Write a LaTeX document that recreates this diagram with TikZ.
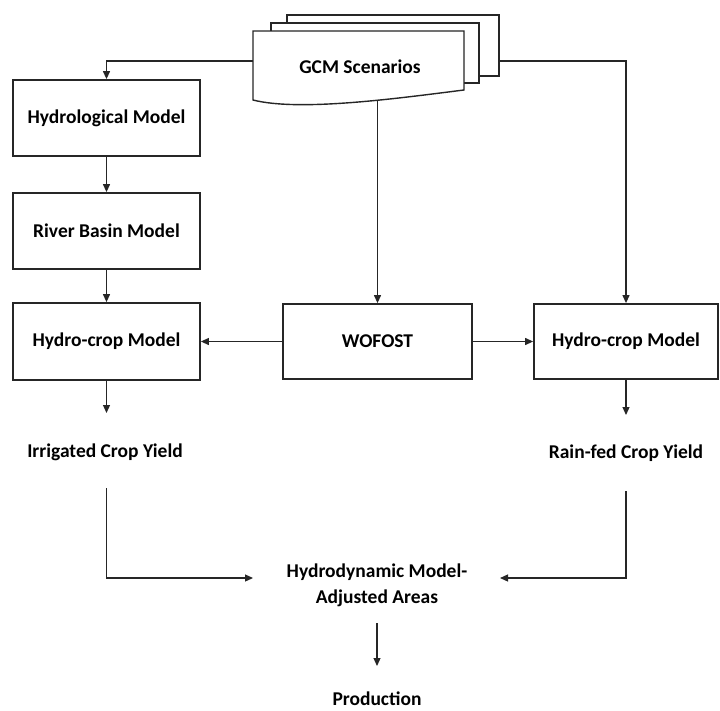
\documentclass[tikz,border=0pt]{standalone}
\usepackage{fontspec}
\setmainfont{Carlito}
\usetikzlibrary{arrows.meta}
\begin{document}
\begin{tikzpicture}[x=1pt,y=-1pt,
  txt/.style={font=\fontsize{19.5}{26}\selectfont\bfseries, text=black},
  box/.style={txt, draw=black!85, line width=1.8pt, fill=white, inner sep=0pt,
              minimum width=187pt, minimum height=76pt},
  lbl/.style={txt, inner sep=0pt, align=center},
  page/.style={draw=black!85, line width=1.4pt, fill=white},
  conn/.style={draw=black!85, line width=1.2pt, -{Triangle[length=8pt,width=7pt]}},
  plain/.style={draw=black!85, line width=1.2pt}]
\useasboundingbox (0,0) rectangle (720,710);

% GCM Scenarios (stacked documents)
\draw[page] (287,15) rectangle (499,76);
\draw[page] (271,23) rectangle (479,83);
\draw[page] (253,31) -- (464,31) -- (464,90)
  .. controls (400,98) and (300,112) .. (253,100) -- cycle;
\node[lbl] (gcm) at (360,67) {GCM Scenarios};
\coordinate (gl) at (253,61);
\coordinate (gr) at (499,61);
\coordinate (gb) at (377.5,101);

% boxes
\node[box] (hyd) at (106.5,118) {Hydrological Model};
\node[box] (rbm) at (106.5,231) {River Basin Model};
\node[box, minimum height=77pt] (hcl) at (106.5,341.5) {Hydro-crop Model};
\node[box, minimum width=189pt, minimum height=75pt] (wof) at (377.5,341.5) {WOFOST};
\node[box, minimum width=184pt, minimum height=75pt] (hcr) at (626,341.5) {Hydro-crop Model};

% labels
\node[lbl] (irr) at (105,452) {Irrigated Crop Yield};
\node[lbl] (rfy) at (626,453) {Rain-fed Crop Yield};
\node[lbl] (hdm) at (377,585) {Hydrodynamic Model-\\Adjusted Areas};
\node[lbl] (pro) at (377,699) {Production};

% helper coordinates
\coordinate (irrT) at (106.5,413);
\coordinate (rfyT) at (626,415);
\coordinate (irrB) at (106.5,488);
\coordinate (rfyB) at (626,491);
\coordinate (hdmL) at (253,578);
\coordinate (hdmR) at (500,578);
\coordinate (hdmB) at (377,623);
\coordinate (proT) at (377,666);

% connectors
\draw[conn] (gl) -| (hyd.north);
\draw[conn] (gr) -| (hcr.north);
\draw[conn] (gb) -- (wof.north);
\draw[conn] (hyd.south) -- (rbm.north);
\draw[conn] (rbm.south) -- (hcl.north);
\draw[conn] (wof.west) -- (hcl.east);
\draw[conn] (wof.east) -- (hcr.west);
\draw[conn] (hcl.south) -- (irrT);
\draw[conn] (hcr.south) -- (rfyT);
\draw[conn] (irrB) |- (hdmL);
\draw[conn] (rfyB) |- (hdmR);
\draw[conn] (hdmB) -- (proT);
\end{tikzpicture}
\end{document}
